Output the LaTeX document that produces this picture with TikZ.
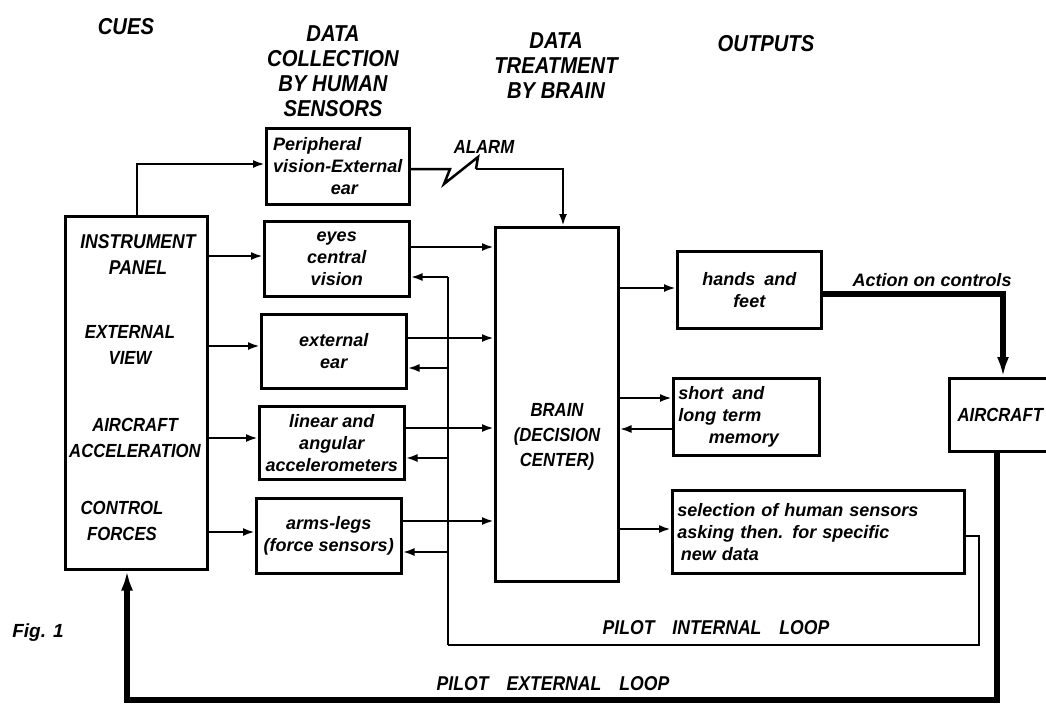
\documentclass[tikz,border=0pt]{standalone}
\usepackage{fontspec}
\newfontfamily\capsf[FakeStretch=0.88]{Liberation Sans}
\newfontfamily\lowf{Liberation Sans}
\usetikzlibrary{arrows.meta}
\begin{document}
\begin{tikzpicture}[x=1pt,y=-1pt,
  box/.style={draw, line width=2.5pt, inner sep=4pt, anchor=north west},
  ln/.style={line width=2.5pt},
  thk/.style={line width=6pt},
  arr/.style={-{Latex[length=12pt,width=8pt]}},
  bigarr/.style={-{Latex[length=20pt,width=12pt]}},
  hdr/.style={font=\capsf\bfseries\itshape\fontsize{23}{25}\selectfont, align=center},
  capl/.style={font=\capsf\bfseries\itshape\fontsize{19}{26}\selectfont, align=center},
  txt/.style={font=\lowf\bfseries\itshape\fontsize{18}{22}\selectfont},
]
\useasboundingbox (0,0) rectangle (1046,713);

% column headers
\node[hdr] (hcues) at (126,27) {CUES};
\node[hdr] (hcoll) at (333,71) {DATA\\COLLECTION\\BY HUMAN\\SENSORS};
\node[hdr] (htreat) at (556,66) {DATA\\TREATMENT\\BY BRAIN};
\node[hdr] (hout) at (766,44) {OUTPUTS};

% cues box
\node[box, minimum width=142pt, minimum height=353pt] (cues) at (64,215) {};
\node[capl, font=\capsf\bfseries\itshape\fontsize{20}{26}\selectfont] (linst) at (138,255) {INSTRUMENT\\PANEL};
\node[capl] (lext) at (130,345) {EXTERNAL\\VIEW};
\node[capl] (lacc) at (135,438) {AIRCRAFT\\ACCELERATION};
\node[capl] (lctl) at (122,521) {CONTROL\\FORCES};

% sensors
\node[box, txt, align=left, minimum width=143pt, minimum height=76pt] (periph) at (265,127) {Peripheral\\vision-External\\\hspace*{3.2em}ear};
\node[box, txt, align=center, minimum width=145pt, minimum height=75pt] (eyes) at (263,220) {eyes\\central\\vision};
\node[box, txt, align=center, minimum width=145pt, minimum height=74pt] (extear) at (260,313) {external\\ear};
\node[box, txt, align=center, minimum width=145pt, minimum height=73pt] (linear) at (258,405) {linear and\\angular\\accelerometers};
\node[box, txt, align=center, minimum width=145pt, minimum height=75pt] (arms) at (255,497) {arms-legs\\(force sensors)};

% brain
\node[box, minimum width=123pt, minimum height=354pt] (brain) at (494,226) {};
\node[capl, font=\capsf\bfseries\itshape\fontsize{19}{25}\selectfont] (braint) at (557,437) {BRAIN\\(DECISION\\CENTER)};

% outputs
\node[box, txt, align=center, minimum width=144pt, minimum height=77pt] (hands) at (676,250) {hands\hspace{0.5em}and\\feet};
\node[box, txt, align=left, text width=136pt, minimum width=146pt, minimum height=77pt] (memory) at (672,377) {short\hspace{0.5em}and\\long term\\\hspace*{1.7em}memory};
\node[box, txt, align=left, text width=282pt, minimum width=292pt, minimum height=83pt] (selection) at (671,489) {selection of human sensors\\asking then. for specific\\\hspace*{0.2em}new data};
\node[box, capl, minimum width=102pt, minimum height=73pt] (aircraft) at (948,377) {AIRCRAFT};

% labels
\node[capl] (alarm) at (484,147) {ALARM};
\node[txt] (act) at (932,280) {Action on controls};
\node[capl, font=\capsf\bfseries\itshape\fontsize{20}{24}\selectfont] (pil) at (716,628) {PILOT\hspace{0.9em}INTERNAL\hspace{0.9em}LOOP};
\node[capl, font=\capsf\bfseries\itshape\fontsize{20}{24}\selectfont] (pel) at (553,684) {PILOT\hspace{0.9em}EXTERNAL\hspace{0.9em}LOOP};
\node[txt, font=\lowf\bfseries\itshape\fontsize{19}{22}\selectfont] (fig) at (38,633) {Fig. 1};

% coordinates
\coordinate (pc) at (137,164);
\coordinate (al1) at (450,169);
\coordinate (al2) at (444,184);
\coordinate (al3) at (478,157);
\coordinate (al4) at (476,169);
\coordinate (al5) at (563,169);
\coordinate (fb) at (448,277);
\coordinate (fbb) at (448,645);
\coordinate (il1) at (979,536);
\coordinate (il2) at (979,645);
\coordinate (ac1) at (1003,294);
\coordinate (el1) at (997,700);
\coordinate (el2) at (127,700);

% cue -> peripheral
\draw[ln,arr] (cues.north -| pc) -- (pc) -- (periph.west |- pc);
% alarm
\draw[ln] (periph.east |- al1) -- (al1) -- (al2) -- (al3) -- (al4);
\draw[ln,arr] (al4) -- (al5) -- (brain.north -| al5);

% cues -> sensors
\draw[ln,arr] (cues.east |- 0,256) -- (eyes.west |- 0,256);
\draw[ln,arr] (cues.east |- 0,346) -- (extear.west |- 0,346);
\draw[ln,arr] (cues.east |- 0,438) -- (linear.west |- 0,438);
\draw[ln,arr] (cues.east |- 0,532) -- (arms.west |- 0,532);

% sensors -> brain
\draw[ln,arr] (eyes.east |- 0,247) -- (brain.west |- 0,247);
\draw[ln,arr] (extear.east |- 0,338) -- (brain.west |- 0,338);
\draw[ln,arr] (linear.east |- 0,428) -- (brain.west |- 0,428);
\draw[ln,arr] (arms.east |- 0,521) -- (brain.west |- 0,521);

% feedback to sensors
\draw[ln] (fb) -- (fbb);
\draw[ln,arr] (fb) -- (eyes.east |- fb);
\draw[ln,arr] (fb |- 0,368) -- (extear.east |- 0,368);
\draw[ln,arr] (fb |- 0,458) -- (linear.east |- 0,458);
\draw[ln,arr] (fb |- 0,552) -- (arms.east |- 0,552);

% brain -> outputs
\draw[ln,arr] (brain.east |- 0,288) -- (hands.west |- 0,288);
\draw[ln,arr] (brain.east |- 0,398) -- (memory.west |- 0,398);
\draw[ln,arr] (memory.west |- 0,429) -- (brain.east |- 0,429);
\draw[ln,arr] (brain.east |- 0,529) -- (selection.west |- 0,529);

% internal loop
\draw[ln] (selection.east |- il1) -- (il1) -- (il2) -- (fbb);

% action on controls
\draw[thk,bigarr] (hands.east |- ac1) -- (ac1) -- (aircraft.north -| ac1);
% external loop
\draw[thk,bigarr] (aircraft.south -| el1) -- (el1) -- (el2) -- (cues.south -| el2);
\end{tikzpicture}
\end{document}
